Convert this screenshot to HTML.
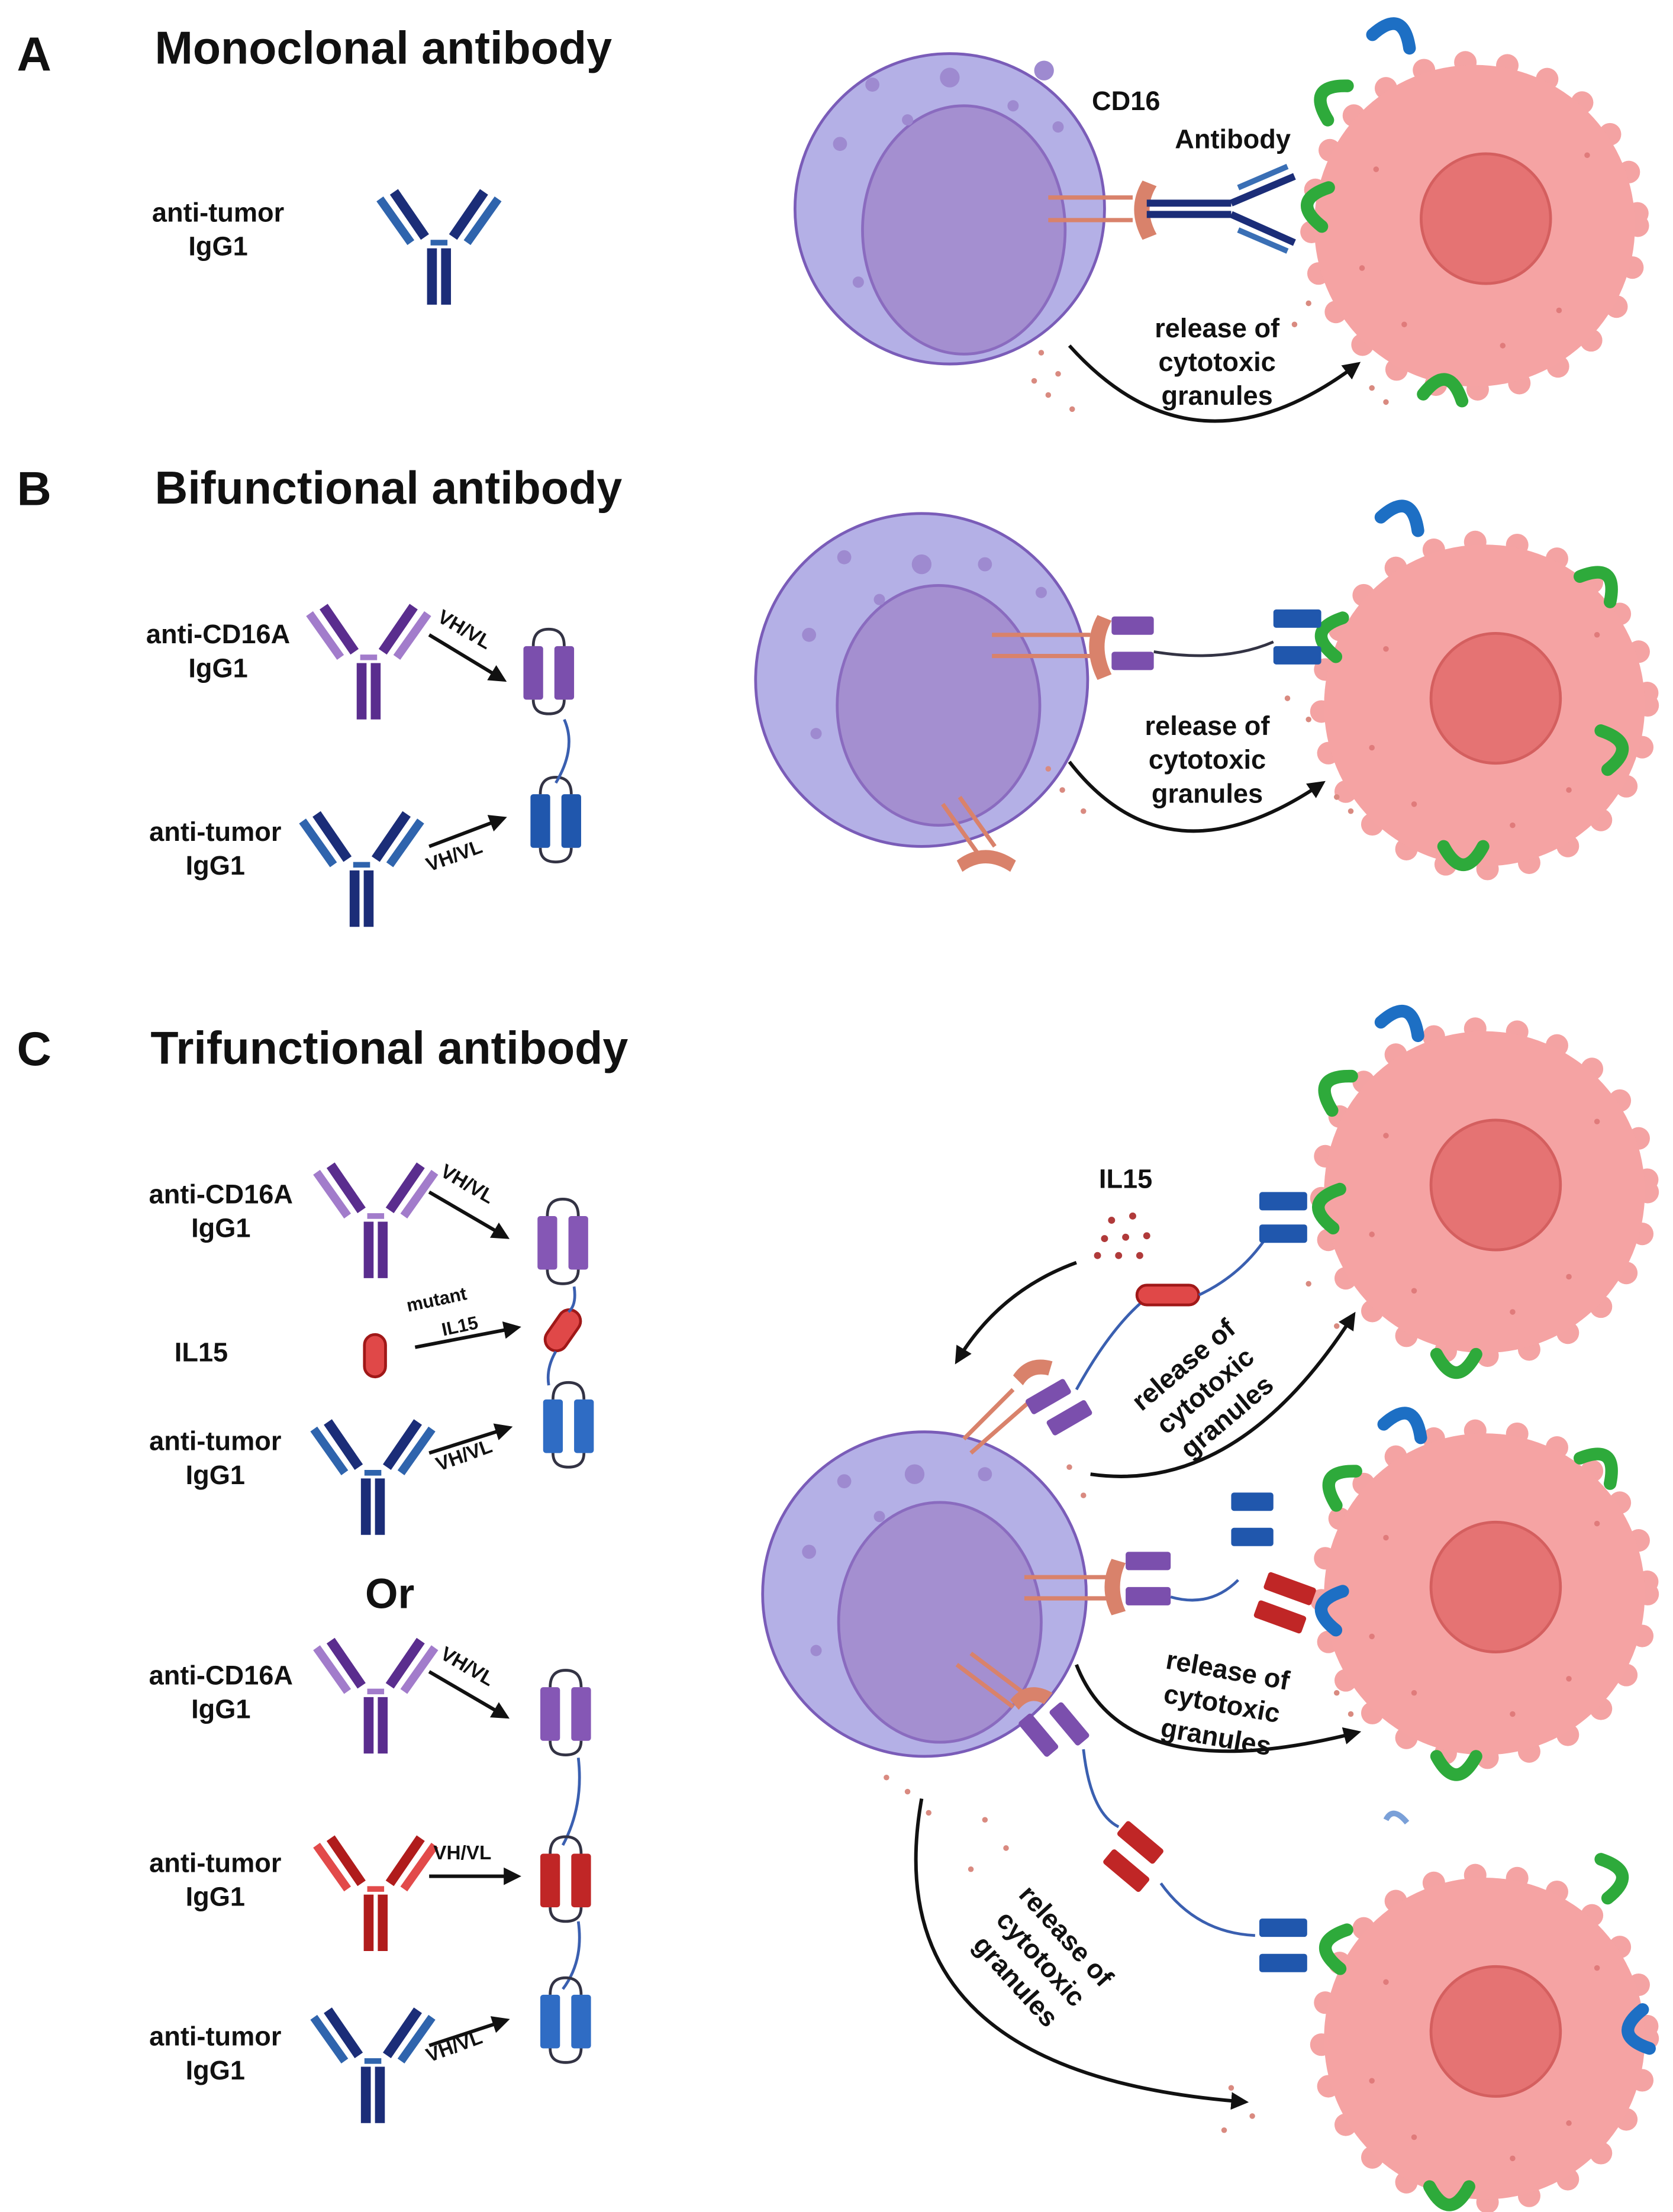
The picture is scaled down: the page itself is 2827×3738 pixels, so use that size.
<!DOCTYPE html>
<html><head><meta charset="utf-8"><style>
html,body{margin:0;padding:0;background:#fff}
svg{display:block}
text{font-family:"Liberation Sans",sans-serif;font-weight:bold;fill:#111}
</style></head><body>
<svg width="2827" height="3738" viewBox="0 0 1189 1568" preserveAspectRatio="none" xmlns="http://www.w3.org/2000/svg">
<defs>
<g id="ab">
 <line x1="-10" y1="32" x2="-32" y2="0" stroke="currentColor" stroke-width="7"/>
 <line x1="-20" y1="36" x2="-42" y2="5" style="stroke:var(--c2)" stroke-width="6"/>
 <line x1="10" y1="32" x2="32" y2="0" stroke="currentColor" stroke-width="7"/>
 <line x1="20" y1="36" x2="42" y2="5" style="stroke:var(--c2)" stroke-width="6"/>
 <line x1="-6" y1="36" x2="6" y2="36" style="stroke:var(--c2)" stroke-width="4"/>
 <line x1="-5" y1="40" x2="-5" y2="80" stroke="currentColor" stroke-width="7"/>
 <line x1="5" y1="40" x2="5" y2="80" stroke="currentColor" stroke-width="7"/>
</g>
<g id="frag">
 <rect x="-18" y="0" width="14" height="38" rx="2" fill="currentColor"/>
 <rect x="4" y="0" width="14" height="38" rx="2" fill="currentColor"/>
 <path d="M11 0 Q11 -12 0 -12 Q-11 -12 -11 0" fill="none" stroke="#334" stroke-width="2"/>
 <path d="M-11 38 Q-11 48 0 48 Q11 48 11 38" fill="none" stroke="#334" stroke-width="2"/>
</g>
<marker id="ar" viewBox="0 0 10 10" refX="8" refY="5" markerWidth="5" markerHeight="5" orient="auto"><path d="M0 0L10 5L0 10z" fill="#111"/></marker>
<g id="tumor">
 <circle r="116" fill="none" stroke="#f4a3a3" stroke-width="16" stroke-dasharray="0 30" stroke-linecap="round"/>
 <circle r="114" fill="#f5a3a3"/>
 <circle cx="8" cy="-5" r="46" fill="#e57373" stroke="#d45f5f" stroke-width="2"/>
 <g fill="#e07b7b"><circle cx="-70" cy="-40" r="2"/><circle cx="60" cy="60" r="2"/><circle cx="-50" cy="70" r="2"/><circle cx="80" cy="-50" r="2"/><circle cx="-80" cy="30" r="2"/><circle cx="20" cy="85" r="2"/></g>
</g>
<path id="green" d="M-14 10 Q0 -16 14 10" fill="none" stroke="#2eaa3b" stroke-width="9" stroke-linecap="round"/>
<path id="blue" d="M-14 10 Q0 -16 14 10" fill="none" stroke="#1d6fc4" stroke-width="9" stroke-linecap="round"/>
</defs>

<!-- Headers -->
<text x="12" y="50" font-size="34">A</text>
<text x="110" y="45" font-size="32.5">Monoclonal antibody</text>
<text x="12" y="358" font-size="34">B</text>
<text x="110" y="357" font-size="32.5">Bifunctional antibody</text>
<text x="12" y="755" font-size="34">C</text>
<text x="107" y="754" font-size="32.5">Trifunctional antibody</text>

<g font-size="19" text-anchor="middle">
<text x="155" y="157">anti-tumor</text><text x="155" y="181">IgG1</text>
<text x="155" y="456">anti-CD16A</text><text x="155" y="480">IgG1</text>
<text x="153" y="596">anti-tumor</text><text x="153" y="620">IgG1</text>
<text x="157" y="853">anti-CD16A</text><text x="157" y="877">IgG1</text>
<text x="143" y="965">IL15</text>
<text x="153" y="1028">anti-tumor</text><text x="153" y="1052">IgG1</text>
<text x="157" y="1194">anti-CD16A</text><text x="157" y="1218">IgG1</text>
<text x="153" y="1327">anti-tumor</text><text x="153" y="1351">IgG1</text>
<text x="153" y="1450">anti-tumor</text><text x="153" y="1474">IgG1</text>
</g>
<text x="277" y="1140" font-size="30" text-anchor="middle">Or</text>

<!-- Left antibodies -->
<use href="#ab" x="312" y="136" style="color:#1b2d78;--c2:#2f64ad"/>
<use href="#ab" x="262" y="430" style="color:#5a2d8e;--c2:#a27ccb"/>
<use href="#ab" x="257" y="577" style="color:#1b2d78;--c2:#2f64ad"/>
<use href="#ab" x="267" y="826" style="color:#5a2d8e;--c2:#a27ccb"/>
<use href="#ab" x="265" y="1008" style="color:#1b2d78;--c2:#2f64ad"/>
<use href="#ab" x="267" y="1163" style="color:#5a2d8e;--c2:#a27ccb"/>
<use href="#ab" x="267" y="1303" style="color:#b01c1c;--c2:#e24a4a"/>
<use href="#ab" x="265" y="1425" style="color:#1b2d78;--c2:#2f64ad"/>

<!-- Left fragments & arrows -->
<g stroke="#111" stroke-width="2.5" marker-end="url(#ar)" fill="none">
<line x1="305" y1="450" x2="358" y2="482"/>
<line x1="305" y1="600" x2="358" y2="580"/>
<line x1="305" y1="845" x2="360" y2="877"/>
<line x1="295" y1="955" x2="368" y2="941"/>
<line x1="305" y1="1030" x2="362" y2="1012"/>
<line x1="305" y1="1185" x2="360" y2="1217"/>
<line x1="305" y1="1330" x2="368" y2="1330"/>
<line x1="305" y1="1450" x2="360" y2="1432"/>
</g>
<g font-size="14">
<text x="310" y="440" transform="rotate(30 310 440)">VH/VL</text>
<text x="305" y="618" transform="rotate(-20 305 618)">VH/VL</text>
<text x="312" y="833" transform="rotate(30 312 833)">VH/VL</text>
<text x="290" y="930" font-size="13" transform="rotate(-12 290 930)">mutant</text>
<text x="315" y="947" font-size="13" transform="rotate(-12 315 947)">IL15</text>
<text x="312" y="1043" transform="rotate(-20 312 1043)">VH/VL</text>
<text x="312" y="1175" transform="rotate(30 312 1175)">VH/VL</text>
<text x="308" y="1318">VH/VL</text>
<text x="305" y="1462" transform="rotate(-20 305 1462)">VH/VL</text>
</g>
<use href="#frag" x="390" y="458" style="color:#7b4fad"/>
<use href="#frag" x="395" y="563" style="color:#2057ad"/>
<path d="M401 510 Q410 530 395 555" fill="none" stroke="#3a5fb0" stroke-width="2"/>
<use href="#frag" x="400" y="862" style="color:#8557b5"/>
<rect x="-8" y="-16" width="16" height="32" rx="8" transform="translate(400 943) rotate(35)" fill="#e04848" stroke="#a01818" stroke-width="2"/>
<rect x="259" y="946" width="15" height="30" rx="7.5" fill="#e04848" stroke="#a01818" stroke-width="2"/>
<path d="M408 912 Q410 925 404 930 M395 958 Q388 970 390 982" fill="none" stroke="#3a5fb0" stroke-width="2"/>
<use href="#frag" x="404" y="992" style="color:#2f6cc4"/>
<use href="#frag" x="402" y="1196" style="color:#8557b5"/>
<path d="M411 1246 Q415 1280 400 1308" fill="none" stroke="#3a5fb0" stroke-width="2"/>
<use href="#frag" x="402" y="1314" style="color:#c02626"/>
<path d="M411 1362 Q415 1390 400 1410" fill="none" stroke="#3a5fb0" stroke-width="2"/>
<use href="#frag" x="402" y="1414" style="color:#2f6cc4"/>

<!-- ===== A right ===== -->
<circle cx="675" cy="148" r="110" fill="#b4b0e6" stroke="#7a5cb8" stroke-width="2"/>
<ellipse cx="685" cy="163" rx="72" ry="88" fill="#a48fd0" stroke="#8a6bbf" stroke-width="2"/>
<g fill="#9e8ad0"><circle cx="620" cy="60" r="5"/><circle cx="675" cy="55" r="7"/><circle cx="645" cy="85" r="4"/><circle cx="720" cy="75" r="4"/><circle cx="742" cy="50" r="7"/><circle cx="597" cy="102" r="5"/><circle cx="610" cy="200" r="4"/><circle cx="752" cy="90" r="4"/></g>
<use href="#tumor" x="1048" y="160"/>
<use href="#blue" x="992" y="20" transform="rotate(20 992 20)"/>
<use href="#green" x="942" y="68" transform="rotate(-60 942 68)"/>
<use href="#green" x="932" y="145" transform="rotate(-80 932 145)"/>
<use href="#green" x="1027" y="272" transform="rotate(10 1027 272)"/>
<g stroke="#d9826b" stroke-width="3"><line x1="745" y1="140" x2="805" y2="140"/><line x1="745" y1="156" x2="805" y2="156"/></g>
<path d="M812 128 Q800 148 812 170 L822 166 Q812 148 822 132Z" fill="#d9826b"/>
<g stroke="#1b2d78" stroke-width="5"><line x1="815" y1="144" x2="875" y2="144"/><line x1="815" y1="152" x2="875" y2="152"/><line x1="875" y1="144" x2="920" y2="125"/><line x1="875" y1="152" x2="920" y2="172"/></g>
<g stroke="#3a6fb5" stroke-width="4"><line x1="880" y1="133" x2="915" y2="118"/><line x1="880" y1="163" x2="915" y2="178"/></g>
<text x="776" y="78" font-size="19">CD16</text>
<text x="835" y="105" font-size="19">Antibody</text>
<g font-size="19" text-anchor="middle"><text x="865" y="239">release of</text><text x="865" y="263">cytotoxic</text><text x="865" y="287">granules</text></g>
<path d="M760 245 Q850 345 965 258" fill="none" stroke="#111" stroke-width="2.5" marker-end="url(#ar)"/>
<g fill="#d98a80"><circle cx="740" cy="250" r="2"/><circle cx="752" cy="265" r="2"/><circle cx="745" cy="280" r="2"/><circle cx="762" cy="290" r="2"/><circle cx="930" cy="215" r="2"/><circle cx="920" cy="230" r="2"/><circle cx="975" cy="275" r="2"/><circle cx="985" cy="285" r="2"/><circle cx="735" cy="270" r="2"/></g>

<!-- ===== B right ===== -->
<circle cx="655" cy="482" r="118" fill="#b4b0e6" stroke="#7a5cb8" stroke-width="2"/>
<ellipse cx="667" cy="500" rx="72" ry="85" fill="#a48fd0" stroke="#8a6bbf" stroke-width="2"/>
<g fill="#9e8ad0"><circle cx="600" cy="395" r="5"/><circle cx="655" cy="400" r="7"/><circle cx="625" cy="425" r="4"/><circle cx="700" cy="400" r="5"/><circle cx="575" cy="450" r="5"/><circle cx="580" cy="520" r="4"/><circle cx="740" cy="420" r="4"/></g>
<use href="#tumor" x="1055" y="500"/>
<use href="#blue" x="998" y="362" transform="rotate(20 998 362)"/>
<use href="#green" x="1140" y="410" transform="rotate(40 1140 410)"/>
<use href="#green" x="942" y="450" transform="rotate(-80 942 450)"/>
<use href="#green" x="1150" y="530" transform="rotate(80 1150 530)"/>
<use href="#green" x="1040" y="610" transform="rotate(180 1040 610)"/>
<g stroke="#d9826b" stroke-width="3"><line x1="705" y1="450" x2="775" y2="450"/><line x1="705" y1="465" x2="775" y2="465"/><line x1="670" y1="570" x2="695" y2="605"/><line x1="682" y1="565" x2="707" y2="600"/></g>
<path d="M780 436 Q768 458 780 482 L790 478 Q780 458 790 440Z" fill="#d9826b"/>
<path d="M680 610 Q700 595 722 610 L718 618 Q700 606 684 618Z" fill="#d9826b"/>
<rect x="790" y="437" width="30" height="13" rx="2" fill="#7b4fad"/><rect x="790" y="462" width="30" height="13" rx="2" fill="#7b4fad"/>
<path d="M820 462 Q870 470 905 455" fill="none" stroke="#334" stroke-width="2"/>
<rect x="905" y="432" width="34" height="13" rx="2" fill="#2057ad"/><rect x="905" y="458" width="34" height="13" rx="2" fill="#2057ad"/>
<g font-size="19" text-anchor="middle"><text x="858" y="521">release of</text><text x="858" y="545">cytotoxic</text><text x="858" y="569">granules</text></g>
<path d="M760 540 Q830 630 940 555" fill="none" stroke="#111" stroke-width="2.5" marker-end="url(#ar)"/>
<g fill="#d98a80"><circle cx="745" cy="545" r="2"/><circle cx="755" cy="560" r="2"/><circle cx="770" cy="575" r="2"/><circle cx="915" cy="495" r="2"/><circle cx="930" cy="510" r="2"/><circle cx="950" cy="565" r="2"/><circle cx="960" cy="575" r="2"/></g>

<!-- ===== C right ===== -->
<circle cx="657" cy="1130" r="115" fill="#b4b0e6" stroke="#7a5cb8" stroke-width="2"/>
<ellipse cx="668" cy="1150" rx="72" ry="85" fill="#a48fd0" stroke="#8a6bbf" stroke-width="2"/>
<g fill="#9e8ad0"><circle cx="600" cy="1050" r="5"/><circle cx="650" cy="1045" r="7"/><circle cx="625" cy="1075" r="4"/><circle cx="700" cy="1045" r="5"/><circle cx="575" cy="1100" r="5"/><circle cx="580" cy="1170" r="4"/></g>
<use href="#tumor" x="1055" y="845"/>
<use href="#tumor" x="1055" y="1130"/>
<use href="#tumor" x="1055" y="1445"/>
<use href="#blue" x="998" y="720" transform="rotate(20 998 720)"/>
<use href="#green" x="945" y="770" transform="rotate(-60 945 770)"/>
<use href="#green" x="940" y="855" transform="rotate(-80 940 855)"/>
<use href="#green" x="1035" y="970" transform="rotate(180 1035 970)"/>
<use href="#blue" x="1000" y="1005" transform="rotate(20 1000 1005)"/>
<use href="#green" x="948" y="1050" transform="rotate(-60 948 1050)"/>
<use href="#green" x="1140" y="1035" transform="rotate(40 1140 1035)"/>
<use href="#blue" x="942" y="1140" transform="rotate(-80 942 1140)"/>
<use href="#green" x="1035" y="1255" transform="rotate(180 1035 1255)"/>
<use href="#green" x="1150" y="1330" transform="rotate(80 1150 1330)"/>
<use href="#green" x="945" y="1380" transform="rotate(-80 945 1380)"/>
<use href="#blue" x="1160" y="1440" transform="rotate(-100 1160 1440)"/>
<use href="#green" x="1030" y="1560" transform="rotate(180 1030 1560)"/>
<path d="M985 1290 Q990 1280 1000 1292" fill="none" stroke="#7aa0d8" stroke-width="4"/>
<g stroke="#d9826b" stroke-width="3"><line x1="685" y1="1020" x2="720" y2="985"/><line x1="690" y1="1030" x2="730" y2="995"/><line x1="728" y1="1118" x2="790" y2="1118"/><line x1="728" y1="1133" x2="790" y2="1133"/><line x1="680" y1="1180" x2="720" y2="1210"/><line x1="690" y1="1172" x2="730" y2="1202"/></g>
<path d="M720 975 Q730 960 748 965 L745 975 Q733 972 727 982Z" fill="#d9826b"/>
<path d="M790 1105 Q780 1125 790 1145 L800 1142 Q792 1125 800 1108Z" fill="#d9826b"/>
<path d="M718 1205 Q730 1190 748 1200 L742 1208 Q732 1202 724 1212Z" fill="#d9826b"/>
<g fill="#7b4fad">
<rect x="-16" y="-6" width="32" height="12" rx="2" transform="translate(745 990) rotate(-30)"/>
<rect x="-16" y="-6" width="32" height="12" rx="2" transform="translate(760 1005) rotate(-30)"/>
<rect x="800" y="1100" width="32" height="13" rx="2"/><rect x="800" y="1125" width="32" height="13" rx="2"/>
<rect x="-16" y="-6" width="32" height="12" rx="2" transform="translate(738 1230) rotate(50)"/>
<rect x="-16" y="-6" width="32" height="12" rx="2" transform="translate(760 1222) rotate(50)"/>
</g>
<path d="M765 985 Q790 940 815 920" fill="none" stroke="#3a5fb0" stroke-width="2"/>
<rect x="808" y="911" width="44" height="14" rx="7" fill="#e04848" stroke="#a01818" stroke-width="2"/>
<path d="M852 918 Q880 905 898 880" fill="none" stroke="#3a5fb0" stroke-width="2"/>
<g fill="#2057ad"><rect x="895" y="845" width="34" height="13" rx="2"/><rect x="895" y="868" width="34" height="13" rx="2"/>
<rect x="875" y="1058" width="30" height="13" rx="2"/><rect x="875" y="1083" width="30" height="13" rx="2"/>
<rect x="895" y="1360" width="34" height="13" rx="2"/><rect x="895" y="1385" width="34" height="13" rx="2"/></g>
<path d="M832 1132 Q860 1140 880 1120" fill="none" stroke="#3a5fb0" stroke-width="2"/>
<g fill="#c02626"><rect x="-16" y="-6" width="36" height="13" rx="2" transform="translate(915 1125) rotate(20)"/><rect x="-16" y="-6" width="36" height="13" rx="2" transform="translate(908 1145) rotate(20)"/>
<rect x="-16" y="-6" width="34" height="13" rx="2" transform="translate(810 1305) rotate(40)"/><rect x="-16" y="-6" width="34" height="13" rx="2" transform="translate(800 1325) rotate(40)"/></g>
<path d="M770 1240 Q775 1285 795 1295 M825 1335 Q850 1370 892 1372" fill="none" stroke="#3a5fb0" stroke-width="2"/>
<text x="800" y="842" font-size="19" text-anchor="middle">IL15</text>
<g fill="#b03a3a"><circle cx="790" cy="865" r="2.5"/><circle cx="805" cy="862" r="2.5"/><circle cx="785" cy="878" r="2.5"/><circle cx="800" cy="877" r="2.5"/><circle cx="815" cy="876" r="2.5"/><circle cx="795" cy="890" r="2.5"/><circle cx="810" cy="890" r="2.5"/><circle cx="780" cy="890" r="2.5"/></g>
<path d="M765 895 Q710 915 680 965" fill="none" stroke="#111" stroke-width="2.5" marker-end="url(#ar)"/>
<path d="M775 1045 Q880 1060 962 932" fill="none" stroke="#111" stroke-width="2.5" marker-end="url(#ar)"/>
<g font-size="19" text-anchor="middle" transform="rotate(-40 860 990)"><text x="860" y="967">release of</text><text x="860" y="991">cytotoxic</text><text x="860" y="1015">granules</text></g>
<path d="M765 1180 Q800 1270 965 1228" fill="none" stroke="#111" stroke-width="2.5" marker-end="url(#ar)"/>
<g font-size="19" text-anchor="middle" transform="rotate(10 868 1210)"><text x="868" y="1190">release of</text><text x="868" y="1214">cytotoxic</text><text x="868" y="1238">granules</text></g>
<path d="M655 1275 Q620 1470 885 1490" fill="none" stroke="#111" stroke-width="2.5" marker-end="url(#ar)"/>
<g font-size="19" text-anchor="middle" transform="rotate(48 738 1390)"><text x="738" y="1370">release of</text><text x="738" y="1394">cytotoxic</text><text x="738" y="1418">granules</text></g>
<g fill="#d98a80"><circle cx="630" cy="1260" r="2"/><circle cx="645" cy="1270" r="2"/><circle cx="660" cy="1285" r="2"/><circle cx="700" cy="1290" r="2"/><circle cx="715" cy="1310" r="2"/><circle cx="690" cy="1325" r="2"/><circle cx="875" cy="1480" r="2"/><circle cx="890" cy="1500" r="2"/><circle cx="870" cy="1510" r="2"/><circle cx="770" cy="1060" r="2"/><circle cx="760" cy="1040" r="2"/><circle cx="930" cy="910" r="2"/><circle cx="950" cy="940" r="2"/><circle cx="960" cy="1215" r="2"/><circle cx="950" cy="1200" r="2"/></g>
</svg>
</body></html>
